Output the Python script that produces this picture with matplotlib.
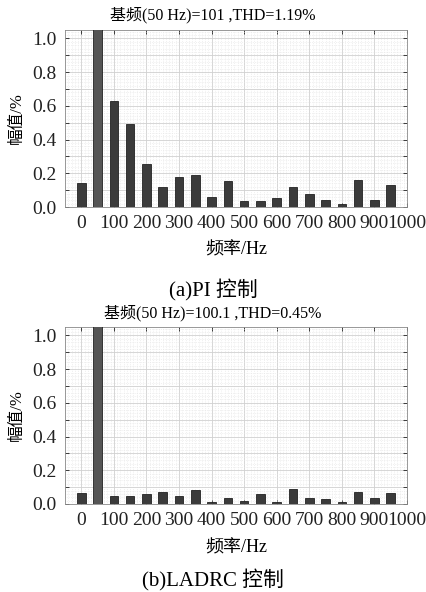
import matplotlib
matplotlib.use("Agg")
import matplotlib.pyplot as plt
from matplotlib.ticker import MultipleLocator, FuncFormatter

plt.rcParams['font.family'] = ['Liberation Serif', 'Noto Sans CJK SC']
plt.rcParams['mathtext.fontset'] = 'stix'

freqs = [0, 50, 100, 150, 200, 250, 300, 350, 400, 450,
         500, 550, 600, 650, 700, 750, 800, 850, 900, 950]
pi_vals = [0.141, 101.0, 0.63, 0.494, 0.253, 0.118, 0.180, 0.190, 0.059, 0.155,
           0.037, 0.035, 0.053, 0.116, 0.080, 0.043, 0.020, 0.161, 0.043, 0.131]
ladrc_vals = [0.064, 100.1, 0.046, 0.050, 0.060, 0.072, 0.048, 0.084, 0.012, 0.034,
              0.018, 0.058, 0.014, 0.088, 0.034, 0.030, 0.014, 0.070, 0.038, 0.066]
xticks = [0, 100, 200, 300, 400, 500, 600, 700, 800, 900, 1000]
titles = ["基频(50 Hz)=101 ,THD=1.19%", "基频(50 Hz)=100.1 ,THD=0.45%"]
captions = ["(a)PI 控制", "(b)LADRC 控制"]
xlabel = "频率/Hz"
ylabel = "幅值/%"

W, H = 426, 592
fig = plt.figure(figsize=(W / 100, H / 100), dpi=100)

def px_axes(left, top, right, bottom):
    return fig.add_axes([left / W, 1 - bottom / H, (right - left) / W, (bottom - top) / H])

boxes = [(65, 30, 407, 207), (65, 327, 407, 504)]
title_y = [15, 313]
xlabel_y = [250, 548]
caption_y = [290, 580]
datasets = [pi_vals, ladrc_vals]

for i in range(2):
    ax = px_axes(*boxes[i])
    vals = datasets[i]
    colors = ['#555555' if f == 50 else '#3b3b3b' for f in freqs]
    ax.bar(freqs, vals, width=26, color=colors, edgecolor='#222222', linewidth=0.6, zorder=3)
    ax.set_xlim(-50, 1000)
    ax.set_ylim(0, 1.05)
    ax.set_xticks(xticks)
    ax.xaxis.set_minor_locator(MultipleLocator(10))
    ax.yaxis.set_major_locator(MultipleLocator(0.1))
    ax.yaxis.set_minor_locator(MultipleLocator(0.02))
    ax.yaxis.set_major_formatter(FuncFormatter(
        lambda v, p: ("%.1f" % v) if round(v * 10) % 2 == 0 else ""))
    ax.grid(True, which='major', color='#d0d0d0', linewidth=0.6, linestyle='-', zorder=0)
    ax.grid(True, which='minor', color='#e4e4e4', linewidth=0.5, linestyle=':', zorder=0)
    ax.tick_params(which='major', direction='in', length=3, width=0.6,
                   top=True, right=True, labelsize=14, colors='#222222', pad=6)
    ax.tick_params(which='minor', length=0)
    for s in ax.spines.values():
        s.set_color('#888888')
        s.set_linewidth(0.6)
    ax.set_ylabel(ylabel, fontsize=12, labelpad=5)
    fig.text(213 / W, 1 - title_y[i] / H, titles[i], ha='center', va='center', fontsize=11.5)
    fig.text(236 / W, 1 - xlabel_y[i] / H, xlabel, ha='center', va='center', fontsize=13)
    fig.text(213 / W, 1 - caption_y[i] / H, captions[i], ha='center', va='center', fontsize=15)

fig.savefig("out.png", dpi=100, facecolor='white')
